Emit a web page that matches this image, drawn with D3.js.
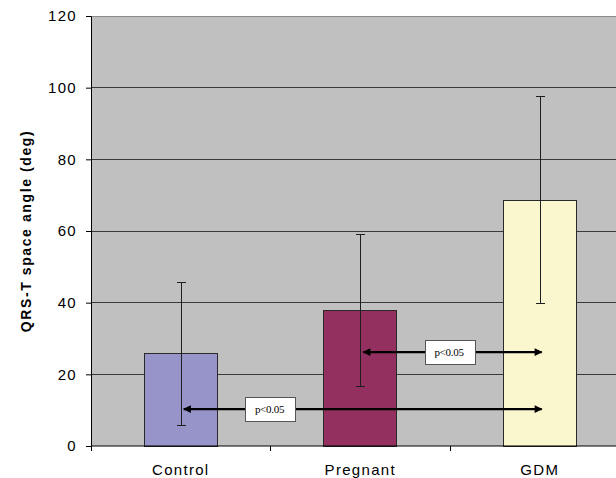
<!DOCTYPE html>
<html><head><meta charset="utf-8">
<script src="https://cdn.jsdelivr.net/npm/d3@7/dist/d3.min.js"></script>
<style>body{margin:0;background:#fff}svg{display:block}.pl{font-family:"Liberation Serif","Times New Roman",serif;font-weight:normal}</style>
</head><body>
<svg id="c" width="616" height="478"></svg>
<script>
const categories = ["Control", "Pregnant", "GDM"];
const means = [25.7, 37.9, 68.6];
const sds = [20.0, 21.2, 28.8];
const barColors = ["#9694C8", "#93305F", "#FAF6CD"];
const yTicks = [0, 20, 40, 60, 80, 100, 120];
const comparisons = [
  {from: "Control", to: "GDM", y: 10.3, label: "p<0.05"},
  {from: "Pregnant", to: "GDM", y: 26.2, label: "p<0.05"}
];

const svg = d3.select("#c");
const pLeft = 91, pRight = 629.5, pTop = 16, pBottom = 446;
const y = d3.scaleLinear().domain([0, 120]).range([pBottom, pTop]);
const x = d3.scaleBand().domain(categories).range([pLeft, pRight]).paddingInner(0.593).paddingOuter(0.2965);
const step = x.step();
const center = c => x(c) + x.bandwidth() / 2;
const bandStart = c => pLeft + categories.indexOf(c) * step;

const defs = svg.append("defs");
defs.append("marker").attr("id", "arr").attr("viewBox", "0 0 10 10")
  .attr("refX", 9).attr("refY", 5)
  .attr("markerWidth", 4.2).attr("markerHeight", 3.6).attr("markerUnits", "strokeWidth")
  .attr("orient", "auto-start-reverse")
  .append("path").attr("d", "M0,0 L10,5 L0,10 z").attr("fill", "#000");

// plot background
svg.append("rect").attr("x", pLeft).attr("y", pTop).attr("width", 616 - pLeft + 5).attr("height", pBottom - pTop)
  .attr("fill", "#C0C0C0");

// gridlines
svg.append("g").selectAll("line").data(yTicks.filter(t => t > 0 && t < 120)).join("line")
  .attr("x1", pLeft).attr("x2", 620).attr("y1", d => y(d)).attr("y2", d => y(d))
  .attr("stroke", "#3a3a3a").attr("stroke-width", 1).attr("shape-rendering", "crispEdges");
svg.append("line").attr("x1", pLeft).attr("x2", 620).attr("y1", y(120)).attr("y2", y(120))
  .attr("stroke", "#8c8c8c").attr("shape-rendering", "crispEdges");

// bars
svg.append("g").selectAll("rect").data(categories).join("rect")
  .attr("x", d => x(d)).attr("width", x.bandwidth())
  .attr("y", (d, i) => y(means[i])).attr("height", (d, i) => y(0) - y(means[i]))
  .attr("fill", (d, i) => barColors[i]).attr("stroke", "#2a2a2a").attr("stroke-width", 1)
  .attr("shape-rendering", "crispEdges");

// error bars
const eb = svg.append("g").attr("stroke", "#1e1e1e").attr("stroke-width", 1).attr("shape-rendering", "crispEdges");
categories.forEach((c, i) => {
  const cx = Math.round(center(c)) + 0.5;
  eb.append("line").attr("x1", cx).attr("x2", cx).attr("y1", y(means[i] - sds[i])).attr("y2", y(means[i] + sds[i]));
  [means[i] - sds[i], means[i] + sds[i]].forEach(v => {
    eb.append("line").attr("x1", cx - 4.5).attr("x2", cx + 4.5).attr("y1", y(v)).attr("y2", y(v));
  });
});

// axes
const yAxis = svg.append("g").attr("transform", `translate(${pLeft},0)`)
  .call(d3.axisLeft(y).tickValues(yTicks).tickSize(5).tickPadding(9));
yAxis.select(".domain").attr("stroke", "#000");
yAxis.selectAll(".tick line").attr("stroke", "#000");
yAxis.selectAll("text").attr("font-family", "Liberation Sans, Arial, sans-serif")
  .attr("font-size", "15px").attr("letter-spacing", "1.3px").attr("fill", "#000");

const xAxis = svg.append("g").attr("transform", `translate(0,${pBottom})`);
xAxis.append("line").attr("x1", pLeft).attr("x2", 620).attr("y1", 0).attr("y2", 0).attr("stroke", "#000");
xAxis.selectAll("line.tk").data(d3.range(categories.length + 1)).join("line").attr("class", "tk")
  .attr("x1", d => pLeft + d * step).attr("x2", d => pLeft + d * step).attr("y1", 0).attr("y2", 5)
  .attr("stroke", "#000").attr("shape-rendering", "crispEdges");
xAxis.selectAll("text").data(categories).join("text")
  .attr("x", d => center(d)).attr("y", 29).attr("text-anchor", "middle")
  .attr("font-family", "Liberation Sans, Arial, sans-serif").attr("font-size", "15px")
  .attr("letter-spacing", "1.3px").attr("fill", "#000").text(d => d);

// y title
svg.append("text").attr("transform", `translate(31,${(pTop + pBottom) / 2}) rotate(-90)`)
  .attr("text-anchor", "middle").attr("font-family", "Liberation Sans, Arial, sans-serif")
  .attr("font-weight", "bold").attr("font-size", "14px").attr("letter-spacing", "1.6px")
  .attr("fill", "#000").text("QRS-T space angle (deg)");

// comparison arrows
const cg = svg.append("g");
comparisons.forEach(cmp => {
  const yy = y(cmp.y);
  cg.append("line").attr("x1", center(cmp.from) + 3).attr("x2", center(cmp.to) + 2)
    .attr("y1", yy).attr("y2", yy).attr("stroke", "#000").attr("stroke-width", 2.2)
    .attr("marker-start", "url(#arr)").attr("marker-end", "url(#arr)");
  const bx = bandStart(cmp.from) + step;
  cg.append("rect").attr("x", bx - 25).attr("y", yy - 12).attr("width", 50).attr("height", 24)
    .attr("fill", "#fff").attr("stroke", "#555").attr("stroke-width", 1).attr("shape-rendering", "crispEdges");
  cg.append("text").attr("class", "pl").attr("x", bx - 1).attr("y", yy + 3.5).attr("text-anchor", "middle")
    .attr("font-size", "11px").attr("letter-spacing", "-0.3px")
    .attr("fill", "#000").text(cmp.label);
});
</script>
</body></html>
